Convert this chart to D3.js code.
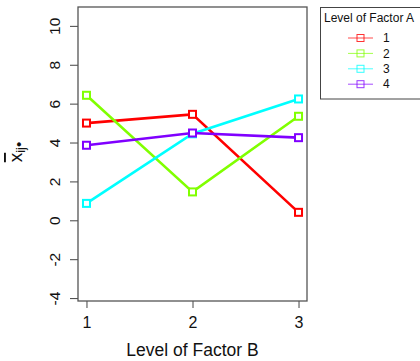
<!DOCTYPE html>
<html>
<head>
<meta charset="utf-8">
<script src="https://cdn.jsdelivr.net/npm/d3@7"></script>
<style>
  html, body { margin: 0; padding: 0; background: #fff; }
  svg { display: block; font-family: "Liberation Sans", Arial, sans-serif; }
</style>
</head>
<body>
<svg id="chart" width="420" height="361"></svg>
<script>
// Cell means of an interaction plot: factor B levels on x, one line per level of factor A
const levelsB = [1, 2, 3];
const levelsA = ["1", "2", "3", "4"];
const meansA1 = [5.0, 5.45, 0.41];
const meansA2 = [6.43, 1.46, 5.35];
const meansA3 = [0.87, 4.45, 6.24];
const meansA4 = [3.86, 4.49, 4.25];
const seriesColors = ["#ff0000", "#80ff00", "#00ffff", "#8000ff"];
const yTicks = [-4, -2, 0, 2, 4, 6, 8, 10];

const series = [meansA1, meansA2, meansA3, meansA4].map((vals, i) => ({
  name: levelsA[i], color: seriesColors[i],
  points: vals.map((v, j) => ({ b: levelsB[j], v }))
}));

const svg = d3.select("#chart");
const box = { left: 78, right: 307, top: 7, bottom: 301 };

const x = d3.scaleLinear().domain([0.92, 3.08]).range([box.left, box.right]);
const y = d3.scaleLinear().domain([-4.15, 10.97]).range([box.bottom, box.top]);

// y axis: ticks outside the left edge, labels rotated, plain hyphen for negatives
const yAxis = d3.axisLeft(y).tickValues(yTicks).tickSize(8).tickPadding(6)
  .tickFormat(d => String(d));
const gy = svg.append("g").attr("transform", `translate(${box.left},0)`).call(yAxis);
gy.select(".domain").remove();
gy.selectAll(".tick line").attr("stroke", "#444").attr("stroke-width", 1);
gy.selectAll(".tick text")
  .attr("font-size", 15.5).attr("fill", "#111")
  .attr("text-anchor", "middle").attr("dy", null).attr("x", null)
  .attr("transform", "translate(-24,0) rotate(-90)")
  .attr("dominant-baseline", "central");

// x axis
const xAxis = d3.axisBottom(x).tickValues(levelsB).tickSize(7).tickPadding(6)
  .tickFormat(d => String(d));
const gx = svg.append("g").attr("transform", `translate(0,${box.bottom})`).call(xAxis);
gx.select(".domain").remove();
gx.selectAll(".tick line").attr("stroke", "#444").attr("stroke-width", 1);
gx.selectAll(".tick text").attr("font-size", 16).attr("fill", "#111").attr("dy", "0.85em");

// plot frame
svg.append("rect")
  .attr("x", box.left).attr("y", box.top)
  .attr("width", box.right - box.left).attr("height", box.bottom - box.top)
  .attr("fill", "none").attr("stroke", "#555").attr("stroke-width", 1.3);

// axis titles
svg.append("text").attr("x", (box.left + box.right) / 2).attr("y", 356)
  .attr("text-anchor", "middle").attr("font-size", 17.5).attr("fill", "#111")
  .text("Level of Factor B");

const yt = svg.append("text")
  .attr("transform", "translate(22,152) rotate(-90)")
  .attr("text-anchor", "middle").attr("font-size", 19).attr("fill", "#111");
yt.append("tspan").attr("text-decoration", "overline").text("x");
yt.append("tspan").attr("font-size", 13).attr("dy", 3).text("ij");
yt.append("tspan").attr("font-size", 15).attr("dy", -1).text("\u2022");

// lines and square markers
const line = d3.line().x(d => x(d.b)).y(d => y(d.v));
const gs = svg.append("g").selectAll("g").data(series).join("g");
gs.append("path")
  .attr("d", d => line(d.points))
  .attr("fill", "none").attr("stroke", d => d.color).attr("stroke-width", 2.6);
gs.selectAll("rect").data(d => d.points.map(p => ({ ...p, color: d.color }))).join("rect")
  .attr("x", d => x(d.b) - 3.5).attr("y", d => y(d.v) - 3.5)
  .attr("width", 7).attr("height", 7)
  .attr("fill", "#fff").attr("stroke", d => d.color).attr("stroke-width", 2);

// legend
const lg = svg.append("g");
lg.append("rect").attr("x", 320.5).attr("y", 7.5).attr("width", 118).attr("height", 91.5)
  .attr("fill", "none").attr("stroke", "#444").attr("stroke-width", 1);
lg.append("text").attr("x", 324).attr("y", 22).attr("font-size", 12).attr("fill", "#111")
  .text("Level of Factor A");
const items = lg.selectAll("g.item").data(series).join("g")
  .attr("class", "item")
  .attr("transform", (d, i) => `translate(0,${38 + i * 15.4})`);
items.append("line").attr("x1", 348).attr("x2", 373).attr("y1", 0).attr("y2", 0)
  .attr("stroke", d => d.color).attr("stroke-width", 1).attr("opacity", 0.7);
items.append("rect").attr("x", 357).attr("y", -3.5).attr("width", 7).attr("height", 7)
  .attr("fill", "none").attr("stroke", d => d.color).attr("stroke-width", 1).attr("opacity", 0.8);
items.append("text").attr("x", 383).attr("y", 0).attr("dy", "0.35em")
  .attr("font-size", 12).attr("fill", "#111").text(d => d.name);
</script>
</body>
</html>
